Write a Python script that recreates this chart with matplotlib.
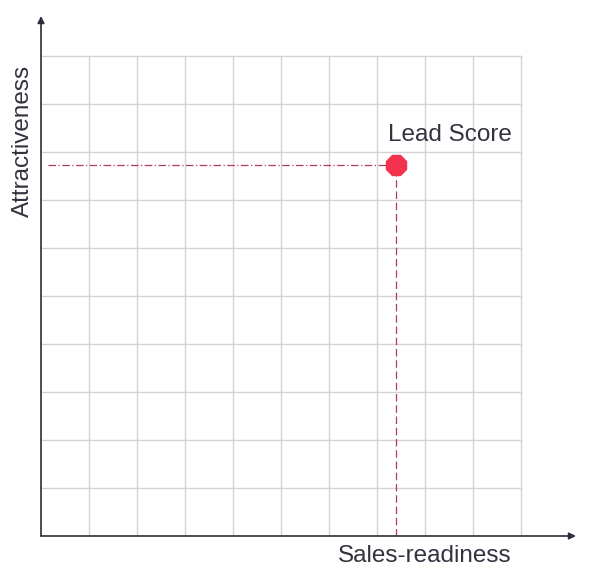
import matplotlib
matplotlib.use("Agg")
import matplotlib.pyplot as plt

# Data
grid_x = list(range(0, 11))
grid_y = list(range(0, 11))
point_x = [7.4]
point_y = [7.73]
point_label = "Lead Score"
x_label = "Sales-readiness"
y_label = "Attractiveness"

W, H = 589, 585
fig = plt.figure(figsize=(W / 100, H / 100), dpi=100)
plt.rcParams['font.family'] = ['Liberation Sans', 'DejaVu Sans']

px = 48.0
x0, y0 = 41, 536
xmax = (580 - x0) / px
ymax = (y0 - 12) / px
ax = fig.add_axes([x0 / W, (H - y0) / H, (580 - x0) / W, (y0 - 12) / H])
ax.set_xlim(0, xmax)
ax.set_ylim(0, ymax)
ax.axis('off')

gc = '#d4d4d4'
for gx in grid_x[1:]:
    ax.plot([gx, gx], [0, 10], color=gc, lw=1, zorder=1)
for gy in grid_y[1:]:
    ax.plot([0, 10], [gy, gy], color=gc, lw=1, zorder=1)

ac = '#2e2e3a'
ax.annotate('', xy=(0, (y0 - 16) / px), xytext=(0, 0),
            arrowprops=dict(arrowstyle='-|>', color=ac, lw=1.2, mutation_scale=10,
                            shrinkA=0, shrinkB=0), annotation_clip=False)
ax.annotate('', xy=((576 - x0) / px, 0), xytext=(0, 0),
            arrowprops=dict(arrowstyle='-|>', color=ac, lw=1.2, mutation_scale=10,
                            shrinkA=0, shrinkB=0), annotation_clip=False)

lc = '#b8385a'
for x, y in zip(point_x, point_y):
    ax.plot([0.15, x], [y, y], color=lc, lw=0.9, ls=(0, (6, 2, 1, 2)), zorder=2)
    ax.plot([x, x], [0, y], color=lc, lw=0.9, ls=(0, (6, 3)), zorder=2)
    ax.plot(x, y, marker='8', markersize=15, color='#f2324f', zorder=3)
    ax.text(x - 0.18, y + 0.5, point_label, fontsize=17.5, color='#333340',
            ha='left', va='baseline')

ax.text((425 - x0) / px, -0.42, x_label, fontsize=17.5, color='#333340',
        ha='center', va='center', clip_on=False)
ax.text(-0.38, (y0 - 141) / px, y_label, fontsize=17.5, color='#333340',
        ha='center', va='center', rotation=90, clip_on=False)

fig.savefig('out.png', dpi=100)
